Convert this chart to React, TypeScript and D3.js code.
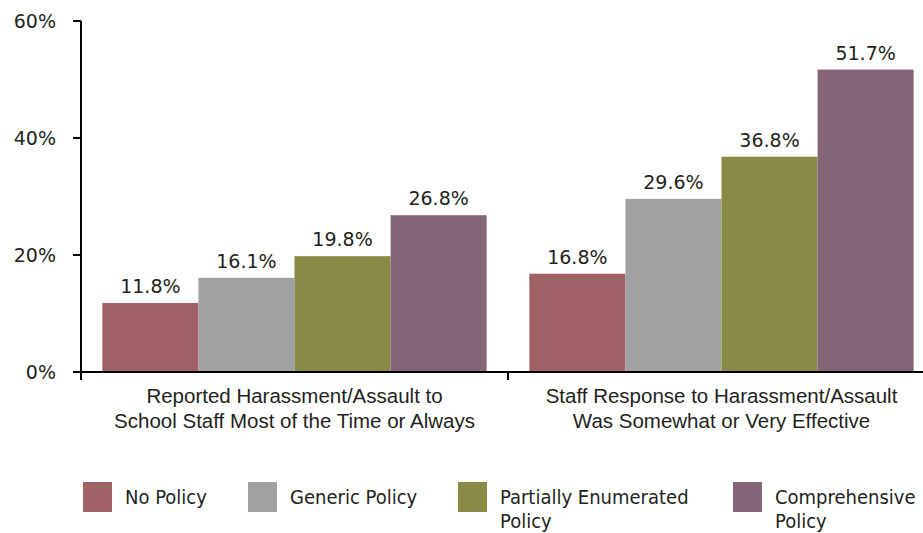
import React from "react";
import * as d3 from "d3";

const categories = [
  ["Reported Harassment/Assault to", "School Staff Most of the Time or Always"],
  ["Staff Response to Harassment/Assault", "Was Somewhat or Very Effective"],
];
const seriesNames = ["No Policy", "Generic Policy", "Partially Enumerated Policy", "Comprehensive Policy"];
const seriesLegendLines = [["No Policy"], ["Generic Policy"], ["Partially Enumerated", "Policy"], ["Comprehensive", "Policy"]];
const noPolicy = [11.8, 16.8];
const genericPolicy = [16.1, 29.6];
const partialPolicy = [19.8, 36.8];
const comprehensivePolicy = [26.8, 51.7];
const yTicks = [0, 20, 40, 60];

const colors = ["#9E6166", "#A0A1A3", "#8A8A47", "#876579"];
const legendX = [83, 248, 458, 733];

export default function App() {
  const W = 923, H = 533;
  const series = [noPolicy, genericPolicy, partialPolicy, comprehensivePolicy];
  const y = d3.scaleLinear().domain([0, 60]).range([372, 21]);
  const x0 = d3.scaleBand<number>().domain([0, 1]).range([81, 935]).paddingInner(0.1).paddingOuter(0.05);
  const x1 = d3.scaleBand<number>().domain([0, 1, 2, 3]).range([0, x0.bandwidth()]);
  const font = "'DejaVu Sans', sans-serif";
  const textColor = "#231F20";
  return (
    <svg width={W} height={H} style={{ position: "absolute", left: 0, top: 0, background: "#fff" }}>
      {/* bars */}
      {categories.map((_, ci) =>
        series.map((s, si) => {
          const bx = (x0(ci) as number) + (x1(si) as number);
          const v = s[ci];
          return (
            <g key={`${ci}-${si}`}>
              <rect x={bx} y={y(v)} width={x1.bandwidth()} height={y(0) - y(v)} fill={colors[si]} />
              <text x={bx + x1.bandwidth() / 2} y={y(v) - 10} textAnchor="middle" fontFamily={font} fontSize={19} fill={textColor}>
                {v.toFixed(1)}%
              </text>
            </g>
          );
        })
      )}
      {/* y axis */}
      <line x1={81} x2={81} y1={y(60)} y2={y(0)} stroke="#000" strokeWidth={2} />
      {yTicks.map((t) => (
        <g key={t}>
          <line x1={73} x2={81} y1={y(t)} y2={y(t)} stroke="#000" strokeWidth={2} />
          <text x={56} y={y(t) + 7} textAnchor="end" fontFamily={font} fontSize={19} fill={textColor}>
            {t}%
          </text>
        </g>
      ))}
      {/* x axis */}
      <line x1={73} x2={W} y1={y(0)} y2={y(0)} stroke="#000" strokeWidth={2} />
      {[0, 1, 2].map((i) => {
        const tx = 81 + i * x0.step();
        return <line key={i} x1={tx} x2={tx} y1={y(0)} y2={y(0) + 8} stroke="#000" strokeWidth={2} />;
      })}
      {categories.map((lines, ci) => (
        <text key={ci} x={(x0(ci) as number) + x0.bandwidth() / 2} textAnchor="middle" fontFamily="'Liberation Sans', Arial, sans-serif" fontSize={20.5} fill={textColor}>
          {lines.map((l, li) => (
            <tspan key={li} x={(x0(ci) as number) + x0.bandwidth() / 2} y={403 + li * 25}>
              {l}
            </tspan>
          ))}
        </text>
      ))}
      {/* legend */}
      {seriesNames.map((n, i) => (
        <g key={n}>
          <rect x={legendX[i]} y={482} width={29} height={30} fill={colors[i]} />
          <text fontFamily="'DejaVu Sans Condensed', 'DejaVu Sans', sans-serif" fontSize={20} fill={textColor}>
            {seriesLegendLines[i].map((l, li) => (
              <tspan key={li} x={legendX[i] + 42} y={504 + li * 24}>
                {l}
              </tspan>
            ))}
          </text>
        </g>
      ))}
    </svg>
  );
}
